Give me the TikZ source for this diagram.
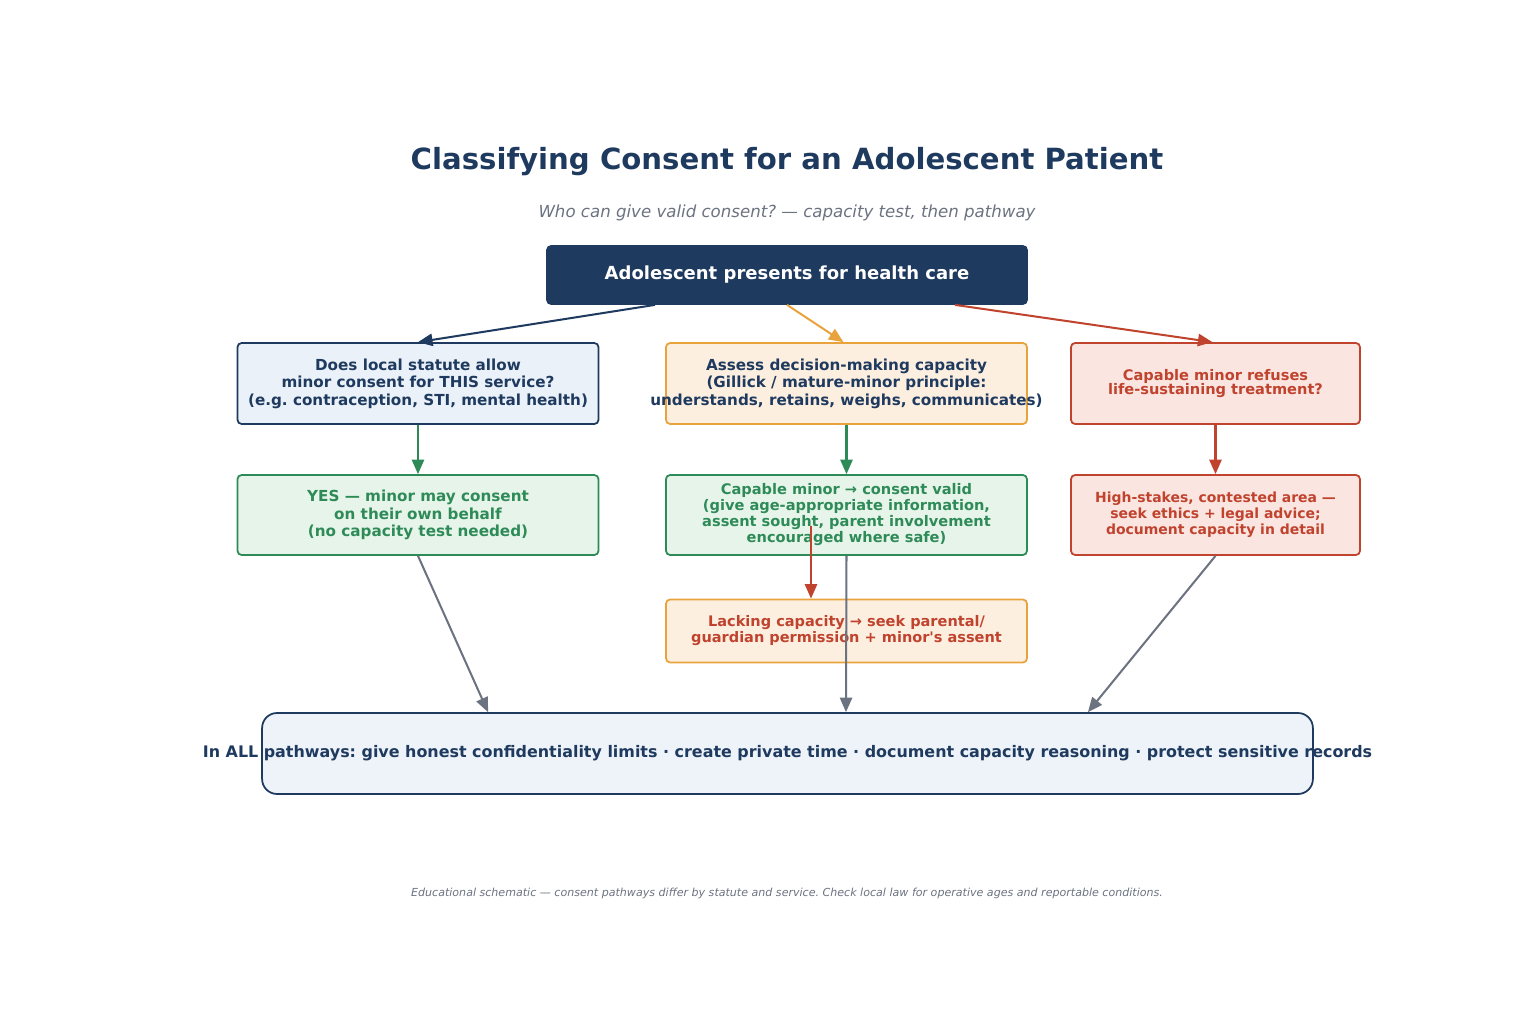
\documentclass[tikz,border=0pt]{standalone}
\usepackage{fontspec}
\setmainfont{DejaVu Sans}
\usepackage{tikz}
\usetikzlibrary{arrows.meta,calc,positioning}
\frenchspacing

\definecolor{navy}{HTML}{1F3A5F}
\definecolor{bluefill}{HTML}{EAF1F8}
\definecolor{orangeline}{HTML}{E8A33D}
\definecolor{orangefill}{HTML}{FDEFE0}
\definecolor{redline}{HTML}{C0432E}
\definecolor{redfill}{HTML}{FBE5E1}
\definecolor{greenline}{HTML}{2E8B57}
\definecolor{greenfill}{HTML}{E6F4EA}
\definecolor{greyline}{HTML}{6B7280}
\definecolor{allfill}{HTML}{EEF3F9}

\begin{document}
\begin{tikzpicture}[x=0.02cm,y=-0.02cm,
  box/.style={draw,line width=1pt,rounded corners=2.3pt,align=center,inner sep=0pt,
    minimum width=7.22cm,minimum height=1.62cm,font=\bfseries\fontsize{8.65}{9.9}\selectfont},
  small/.style={font=\bfseries\fontsize{8.1}{9.1}\selectfont},
  flow/.style={line width=1.15pt,-{Triangle[length=8.3pt,width=7pt]}}]
\useasboundingbox (0,0) rectangle (1536,1024);

% title
\node (title) at (787,162) {\color{navy}\bfseries\fontsize{16.6}{20}\selectfont Classifying Consent for an Adolescent Patient};
\node (subtitle) at (787,212.5) {\color{greyline}\itshape\fontsize{9.45}{11}\selectfont Who can give valid consent? --- capacity test, then pathway};

% boxes
\node[box,fill=navy,draw=navy,text=white,minimum width=9.6cm,minimum height=1.16cm,font=\bfseries\fontsize{10.25}{12}\selectfont] (start) at (787,275) {\raisebox{-1pt}{Adolescent presents for health care}};
\node[box,fill=bluefill,draw=navy,text=navy] (statute) at (418,383.5) {Does local statute allow\\minor consent for THIS service?\\(e.g. contraception, STI, mental health)};
\node[box,fill=orangefill,draw=orangeline,text=navy] (assess) at (846.5,383.5) {Assess decision-making capacity\\(Gillick / mature-minor principle:\\\makebox[0pt]{understands, retains, weighs, communicates)}};
\node[box,fill=redfill,draw=redline,text=redline,minimum width=5.78cm,font=\bfseries\fontsize{8.3}{8.5}\selectfont] (refuse) at (1215.5,383.5) {Capable minor refuses\\life-sustaining treatment?};

\node[box,fill=greenfill,draw=greenline,text=greenline,minimum height=1.6cm] (yes) at (418,515) {YES --- minor may consent\\on their own behalf\\(no capacity test needed)};
\node[box,small,fill=greenfill,draw=greenline,text=greenline,minimum height=1.6cm,font=\bfseries\fontsize{8.3}{9.1}\selectfont] (capable) at (846.5,515) {Capable minor → consent valid\\(give age-appropriate information,\\assent sought, parent involvement\\encouraged where safe)};
\node[box,small,fill=redfill,draw=redline,text=redline,minimum width=5.78cm,minimum height=1.6cm,font=\bfseries\fontsize{7.95}{9.1}\selectfont] (stakes) at (1215.5,515) {High-stakes, contested area ---\\seek ethics + legal advice;\\document capacity in detail};
\node[box,small,fill=orangefill,draw=orangeline,text=redline,minimum height=1.26cm,font=\bfseries\fontsize{8.27}{9.1}\selectfont] (lacking) at (846.5,631) {Lacking capacity → seek parental/\\guardian permission + minor\textquotesingle s assent};

\node[box,fill=allfill,draw=navy,text=navy,rounded corners=8.5pt,minimum width=21.02cm,minimum height=1.62cm,font=\bfseries\fontsize{9.06}{12}\selectfont] (all) at (787.5,753.5) {\makebox[0pt]{In ALL pathways: give honest confidentiality limits · create private time · document capacity reasoning · protect sensitive records}};

% arrows
\draw[flow,navy] ([xshift=-2.64cm]start.south) -- (statute.north);
\draw[flow,orangeline] (start.south) -- ([xshift=-0.06cm]assess.north);
\draw[flow,redline] ([xshift=3.36cm]start.south) -- ([xshift=-0.06cm]refuse.north);
\draw[flow,greenline] (statute) -- (yes);
\draw[flow,greenline] (assess) -- (capable);
\draw[flow,redline] (refuse) -- (stakes);
\draw[flow,redline] ([xshift=-0.71cm,yshift=-0.22cm]capable.center) -- ([xshift=-0.71cm]lacking.north);
\draw[flow,greyline] (yes.south) -- ([xshift=-5.99cm]all.north);
\draw[flow,greyline] (capable.south) -- ([xshift=1.17cm]all.north);
\draw[flow,greyline] (stakes.south) -- ([xshift=6.01cm]all.north);

\node (note) at (787,893) {\color{greyline}\itshape\fontsize{6.3}{7}\selectfont Educational schematic --- consent pathways differ by statute and service. Check local law for operative ages and reportable conditions.};
\end{tikzpicture}
\end{document}
